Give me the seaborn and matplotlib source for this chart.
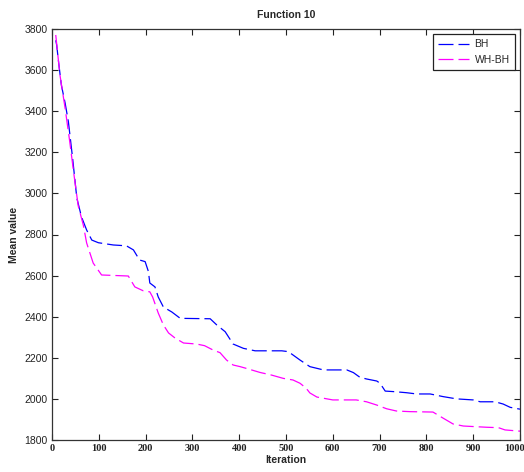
import matplotlib
matplotlib.use("Agg")
import matplotlib.pyplot as plt
import matplotlib.transforms as mtransforms
import seaborn as sns
import pandas as pd

# ---- data ----
bh_iter = [8, 10, 14, 20, 28, 35, 44, 53, 63, 74, 85, 99, 131, 159, 174, 187, 199, 206,
           209, 220, 227, 238, 256, 274, 338, 352, 370, 387, 409, 434, 491, 505, 530,
           551, 580, 630, 644, 658, 672, 694, 701, 712, 733, 758, 779, 808, 836, 865,
           900, 915, 947, 964, 979, 1000]
bh_vals = [3745, 3722, 3640, 3527, 3440, 3349, 3172, 2978, 2886, 2822, 2773, 2760, 2749,
           2745, 2725, 2676, 2668, 2620, 2564, 2545, 2496, 2447, 2423, 2392, 2390, 2360,
           2327, 2267, 2246, 2234, 2234, 2230, 2189, 2157, 2141, 2141, 2128, 2105, 2097,
           2087, 2076, 2038, 2035, 2030, 2024, 2024, 2011, 2000, 1995, 1986, 1986, 1975,
           1959, 1950]

whbh_iter = [8, 17, 28, 38, 47, 56, 67, 74, 88, 106, 163, 177, 195, 209, 215, 227, 238,
             249, 263, 281, 309, 326, 344, 359, 373, 387, 402, 419, 444, 469, 494, 515,
             530, 543, 551, 566, 600, 650, 672, 694, 715, 736, 765, 814, 836, 857, 879,
             929, 954, 968, 1000]
whbh_vals = [3771, 3576, 3415, 3250, 3090, 2940, 2845, 2759, 2661, 2603, 2598, 2545, 2526,
             2521, 2496, 2418, 2360, 2321, 2296, 2272, 2267, 2259, 2238, 2225, 2189, 2165,
             2157, 2146, 2129, 2116, 2100, 2092, 2076, 2052, 2029, 2009, 1995, 1995, 1986,
             1970, 1952, 1941, 1938, 1936, 1906, 1878, 1868, 1862, 1860, 1849, 1843]

methods = ["BH", "WH-BH"]
colors = {"BH": "#0000ff", "WH-BH": "#ff00ff"}
x_ticks = [0, 100, 200, 300, 400, 500, 600, 700, 800, 900, 1000]
y_ticks = [1800, 2000, 2200, 2400, 2600, 2800, 3000, 3200, 3400, 3600, 3800]

df = pd.concat([
    pd.DataFrame({"Iteration": bh_iter, "Mean value": bh_vals, "Method": "BH"}),
    pd.DataFrame({"Iteration": whbh_iter, "Mean value": whbh_vals, "Method": "WH-BH"}),
], ignore_index=True)

sns.set_style("ticks")
plt.rcParams["font.family"] = ["Liberation Sans", "DejaVu Sans"]

fig = plt.figure(figsize=(5.24, 4.72), dpi=100)
ax = fig.add_axes([52 / 524, 1 - 440 / 472, 468 / 524, 411 / 472])

sns.lineplot(data=df, x="Iteration", y="Mean value", hue="Method", style="Method",
             hue_order=methods, style_order=methods, palette=colors,
             dashes={"BH": (12, 4), "WH-BH": (12, 4)}, estimator=None,
             linewidth=0.9, ax=ax)

ax.set_xlim(0, 1000)
ax.set_ylim(1800, 3800)
ax.set_xticks(x_ticks)
ax.set_yticks(y_ticks)
ax.set_xticklabels([str(t) for t in x_ticks], family="Liberation Serif",
                   fontweight="bold", fontsize=7.5)
ax.set_yticklabels([str(t) for t in y_ticks], fontsize=7.5)
ax.tick_params(direction="in", top=True, right=True, length=4, width=0.8,
               colors="#222222", pad=3)
for s in ax.spines.values():
    s.set_visible(True)
    s.set_linewidth(0.9)
    s.set_color("#333333")

# keep the last x label inside the figure
last = ax.get_xticklabels()[-1]
last.set_transform(last.get_transform() +
                   mtransforms.ScaledTranslation(-6 / 100, 0, fig.dpi_scale_trans))

ax.set_title("Function 10", fontsize=7.5, fontweight="bold", pad=8)
ax.set_xlabel("Iteration", fontsize=7.5, fontweight="bold", labelpad=1)
ax.set_ylabel("Mean value", fontsize=7.5, fontweight="bold", labelpad=4)

leg = ax.legend(loc="upper right", fontsize=7.5, frameon=True, fancybox=False,
                borderaxespad=0.5, handlelength=3.0, handletextpad=0.5,
                borderpad=0.5, labelspacing=0.5)
leg.get_frame().set_edgecolor("#222222")
leg.get_frame().set_linewidth(0.9)
leg.get_frame().set_alpha(1)

fig.savefig("out.png", dpi=100)
